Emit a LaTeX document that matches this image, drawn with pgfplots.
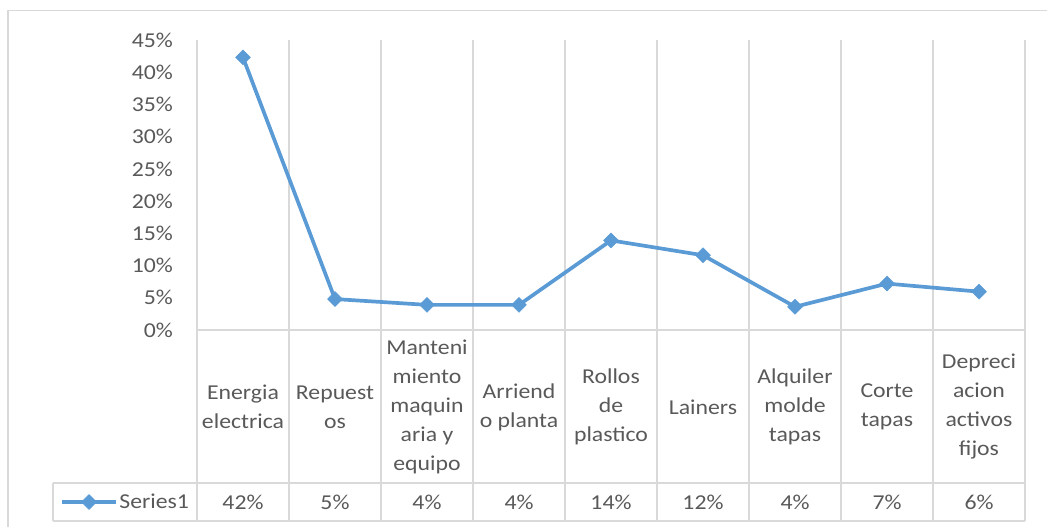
\documentclass[border=0pt]{standalone}
\usepackage{pgfplots}
\pgfplotsset{compat=1.18}
\usepackage{fontspec}
\setmainfont{Carlito}[FakeStretch=1.12]
\definecolor{txt}{HTML}{595959}
\definecolor{gridc}{HTML}{D9D9D9}
\definecolor{ser}{HTML}{5B9BD5}
\newcommand{\chfont}{\fontsize{21.2}{29}\selectfont}
\begin{document}
\begin{tikzpicture}[x=1pt,y=1pt]
\path[use as bounding box] (0,0) rectangle (1047,527);
\draw[gridc, line width=1.3pt] (8,-5) -- (8,516.5) -- (1060,516.5);
\begin{axis}[
  at={(197pt,197pt)}, anchor=south west,
  scale only axis, width=828pt, height=290pt,
  xmin=-0.5, xmax=8.5, ymin=0, ymax=45,
  clip=false,
  axis line style={draw=none},
  major tick length=0pt,
  xtick={0,...,8},
  xticklabels={{Energia\\electrica},{Repuest\\os},{Manteni\\miento\\maquin\\aria y\\equipo},{Arriend\\o planta},{Rollos\\de\\plastico},{Lainers},{Alquiler\\molde\\tapas},{Corte\\tapas},{Depreci\\acion\\activos\\fijos}},
  xticklabel style={anchor=center, yshift=-77pt, align=center, text=txt, font=\chfont},
  ytick={0,5,...,45},
  yticklabel={\pgfmathprintnumber{\tick}\%},
  yticklabel style={anchor=east, inner sep=0pt, xshift=-24pt, text=txt, font=\chfont},
  /pgf/number format/assume math mode=true,
  legend entries={Series1},
  legend style={draw=none, fill=none, at={(-0.1655,-0.5931)}, anchor=west,
    inner sep=0pt, font=\chfont, text=txt,
    nodes={inner sep=1.5pt}},
  legend image code/.code={\draw[#1, mark repeat=2, mark phase=2] plot coordinates {(0pt,0pt) (27pt,0pt) (54pt,0pt)};},
]
% grid and table lines
\pgfplotsinvokeforeach{-0.5,0.5,1.5,2.5,3.5,4.5,5.5,6.5,7.5,8.5}{
  \draw[gridc, line width=1.3pt] (axis cs:#1,45) -- ([yshift=-191pt]axis cs:#1,0);
}
\draw[gridc, line width=1.3pt] (axis cs:-0.5,0) -- (axis cs:8.5,0);
\draw[gridc, line width=1.3pt] ([xshift=-144pt,yshift=-153pt]axis cs:-0.5,0) -- ([yshift=-153pt]axis cs:8.5,0);
\draw[gridc, line width=1.3pt] ([xshift=-144pt,yshift=-191pt]axis cs:-0.5,0) -- ([yshift=-191pt]axis cs:8.5,0);
\draw[gridc, line width=1.3pt] ([xshift=-144pt,yshift=-153pt]axis cs:-0.5,0) -- ([xshift=-144pt,yshift=-191pt]axis cs:-0.5,0);
% data row
\node[text=txt, font=\chfont] at ([yshift=-172pt]axis cs:0,0) {42\%};
\node[text=txt, font=\chfont] at ([yshift=-172pt]axis cs:1,0) {5\%};
\node[text=txt, font=\chfont] at ([yshift=-172pt]axis cs:2,0) {4\%};
\node[text=txt, font=\chfont] at ([yshift=-172pt]axis cs:3,0) {4\%};
\node[text=txt, font=\chfont] at ([yshift=-172pt]axis cs:4,0) {14\%};
\node[text=txt, font=\chfont] at ([yshift=-172pt]axis cs:5,0) {12\%};
\node[text=txt, font=\chfont] at ([yshift=-172pt]axis cs:6,0) {4\%};
\node[text=txt, font=\chfont] at ([yshift=-172pt]axis cs:7,0) {7\%};
\node[text=txt, font=\chfont] at ([yshift=-172pt]axis cs:8,0) {6\%};
\addplot[ser, line width=3.7pt, line join=round, mark=square*, mark size=5.3pt,
  mark options={rotate=45, fill=ser, draw=ser, line width=0.5pt, solid}]
  coordinates {(0,42.3) (1,4.8) (2,3.9) (3,3.9) (4,13.9) (5,11.6) (6,3.6) (7,7.2) (8,5.95)};
\end{axis}
\end{tikzpicture}
\end{document}
